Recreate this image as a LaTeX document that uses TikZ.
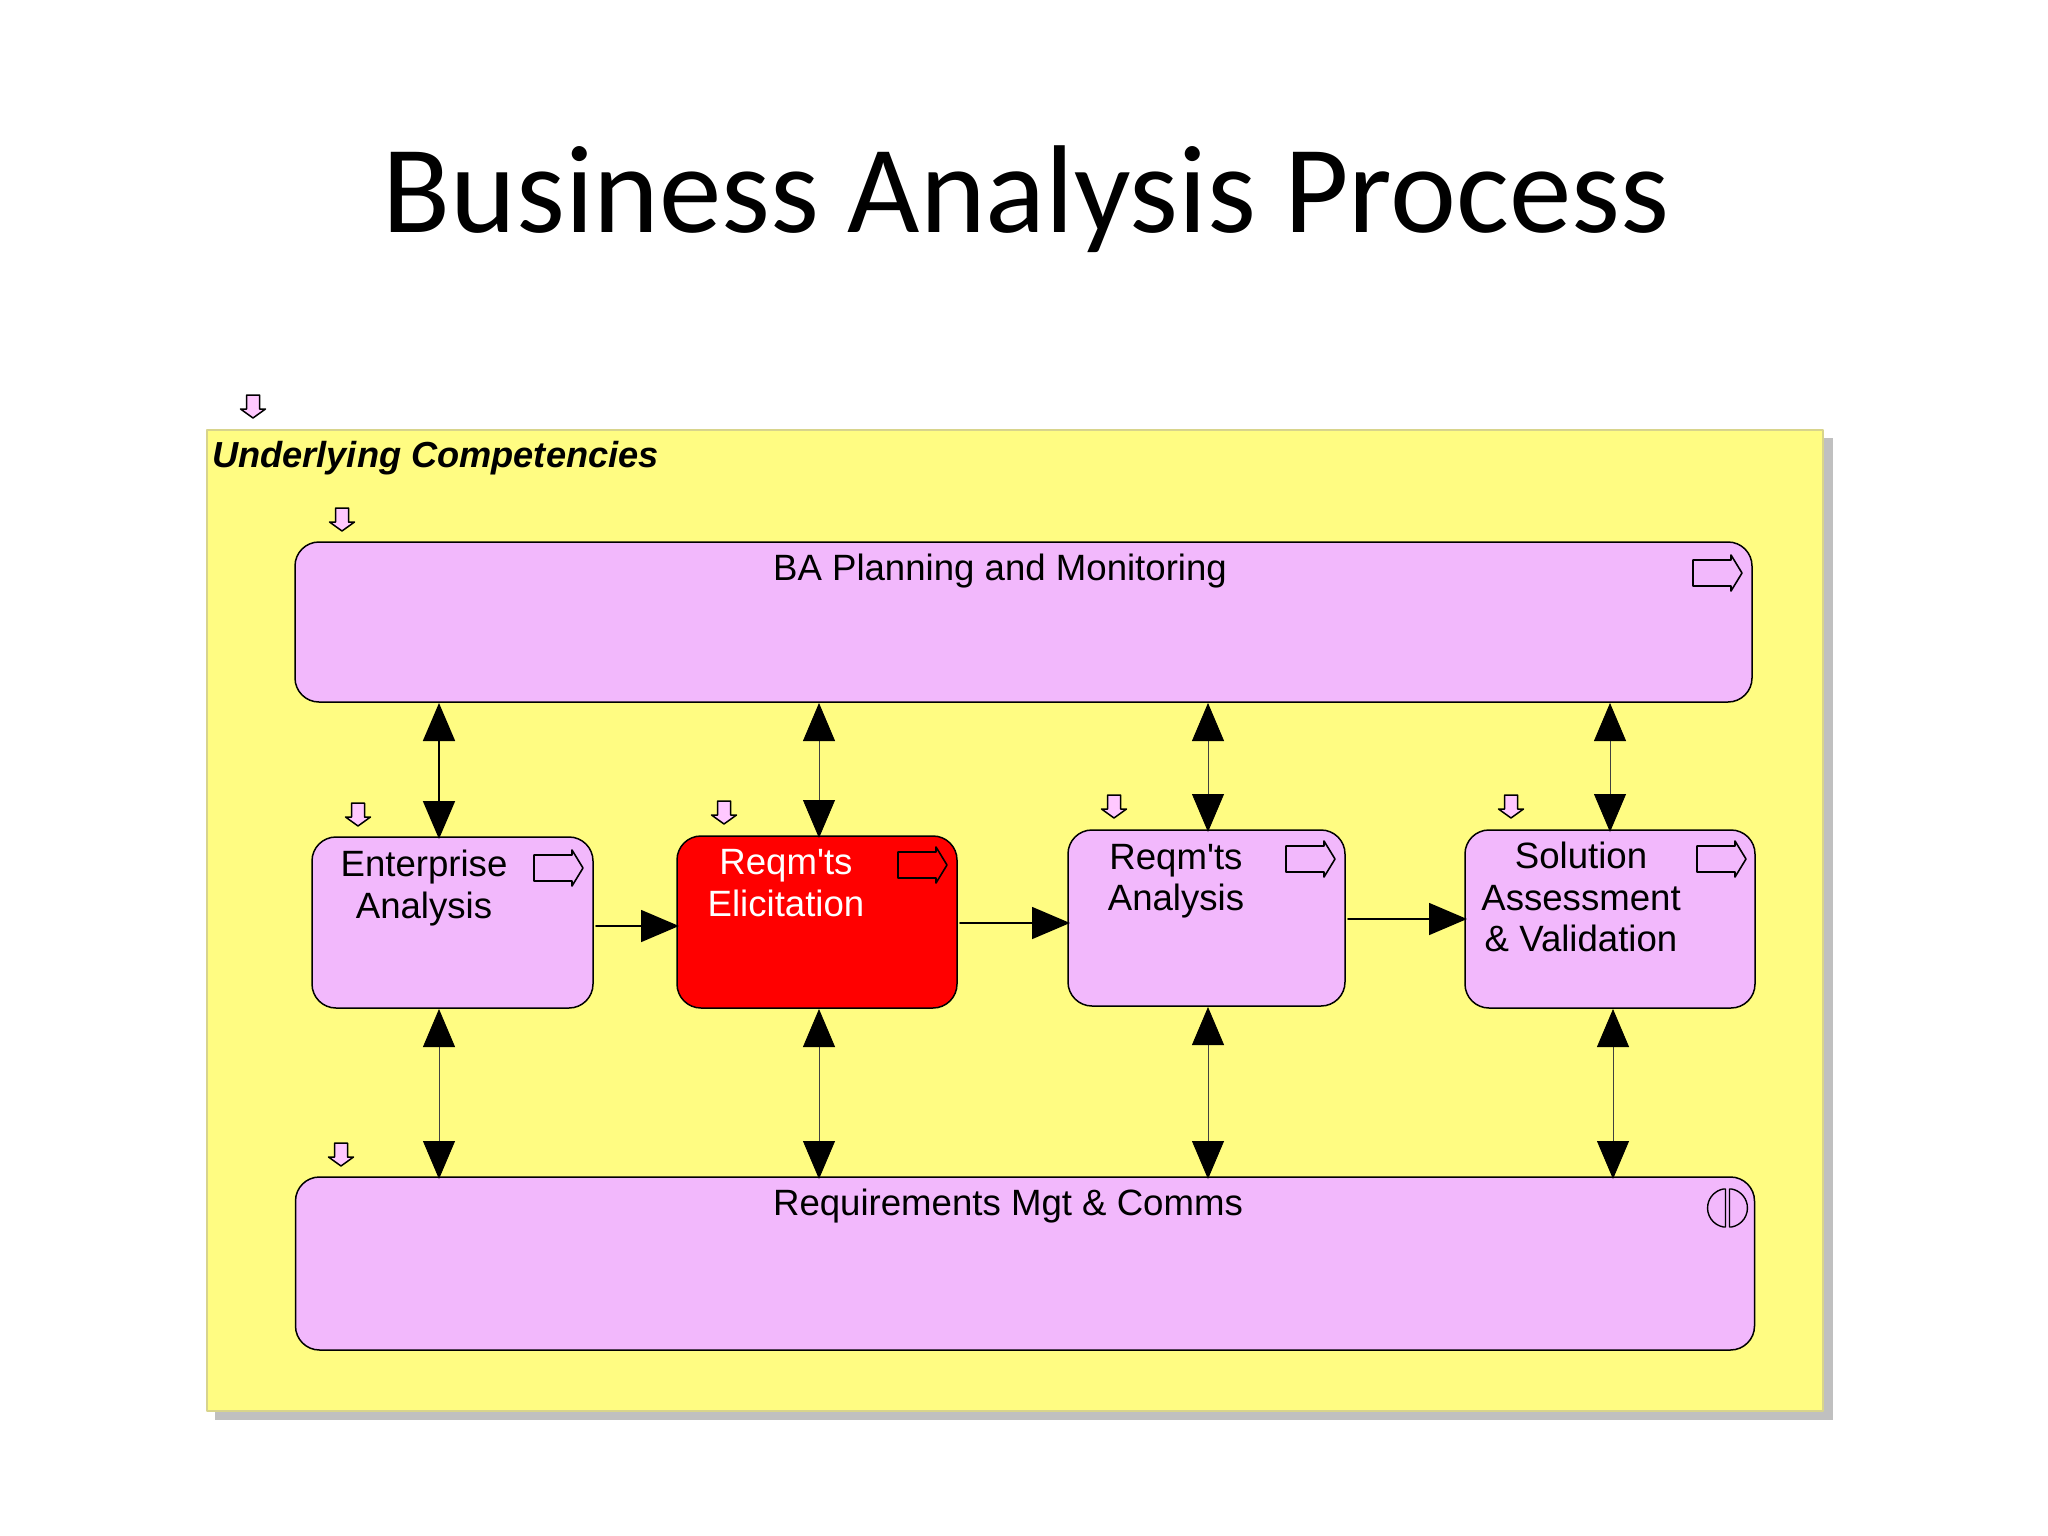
\documentclass[tikz,border=0pt]{standalone}
\usepackage{fontspec}
\usetikzlibrary{arrows.meta}
\newfontfamily\titlefont{Carlito}
\newfontfamily\boxfont{Liberation Sans}
\definecolor{panelyellow}{RGB}{255,252,130}
\definecolor{panelshadow}{RGB}{192,192,192}
\definecolor{boxpurple}{RGB}{242,184,252}
\definecolor{markpink}{RGB}{255,200,255}
\tikzset{
  procbox/.style={draw=black, line width=1.5pt, fill=boxpurple, rounded corners=24pt, inner sep=0pt, outer sep=0pt},
  boxlabel/.style={align=center, inner sep=0pt, font=\boxfont\fontsize{36.6}{41.5}\selectfont},
  bothway/.style={{Triangle[length=38pt,width=32pt,color=black]}-{Triangle[length=38pt,width=32pt,color=black]}, line width=0.8pt, draw=black!75},
  upperlink/.style={bothway, shorten <=-2pt, shorten >=1pt},
  lowerlink/.style={bothway, shorten <=1pt, shorten >=-2pt},
  oneway/.style={-{Triangle[length=38pt,width=32pt]}, line width=1.6pt, shorten >=-2pt},
  downmark/.pic={
    \draw[line width=1.5pt, fill=markpink] (-6.5,0) -- (6.5,0) -- (6.5,14) -- (12.5,14) -- (0,23) -- (-12.5,14) -- (-6.5,14) -- cycle;
  },
  rightmark/.pic={
    \draw[line width=1.6pt] (0,-13) -- (38,-13) -- (38,-18) -- (49,0) -- (38,18) -- (38,13) -- (0,13) -- cycle;
  },
  splitmark/.pic={
    \draw[line width=1.4pt] (-2,-19) -- (-2,19) -- (-4,19) arc[start angle=100,end angle=260,radius=19.3] -- cycle;
    \draw[line width=1.4pt] (2,-19) -- (2,19) -- (4,19) arc[start angle=80,end angle=-80,radius=19.3] -- cycle;
  }
}
\begin{document}
\begin{tikzpicture}[x=1pt, y=-1pt, line cap=round, line join=round]
  \useasboundingbox (0,0) rectangle (2048,1536);
  \node[anchor=base, font=\titlefont\fontsize{125}{125}\selectfont] (title) at (1026,232) {Business Analysis Process};

  % panel
  \fill[panelshadow] (215,438) rectangle (1833,1420);
  \node[draw=yellow!50!gray!70, line width=1.2pt, fill=panelyellow, inner sep=0pt, outer sep=0pt, minimum width=1616pt, minimum height=981pt] (panel) at (1015,920.5) {};
  \node[anchor=base west, inner sep=0pt, font=\boxfont\bfseries\itshape\fontsize{36.2}{36}\selectfont] (paneltitle) at (212,467) {Underlying Competencies};

  % boxes
  \node[procbox, minimum width=1457pt, minimum height=160pt] (ba) at (1023.5,622) {};
  \node[procbox, minimum width=281pt, minimum height=171pt] (ea) at (452.5,922.5) {};
  \node[procbox, fill=red, minimum width=280pt, minimum height=172pt] (el) at (817,922) {};
  \node[procbox, minimum width=277pt, minimum height=176pt] (an) at (1206.5,918) {};
  \node[procbox, minimum width=290pt, minimum height=178pt] (so) at (1610,919) {};
  \node[procbox, minimum width=1459pt, minimum height=173pt] (rm) at (1025,1263.5) {};

  \node[boxlabel] (batext) at (1000,571.5) {BA Planning and Monitoring};
  \node[boxlabel] (rmtext) at (1008,1206) {Requirements Mgt \& Comms};
  \node[boxlabel] (eatext) at (424,888) {Enterprise\\Analysis};
  \node[boxlabel, text=white] (eltext) at (786,883) {Reqm'ts\\Elicitation};
  \node[boxlabel] (antext) at (1176,881) {Reqm'ts\\Analysis};
  \node[boxlabel] (sotext) at (1581,897) {Solution\\Assessment\\\& Validation};

  % links up and down
  \draw[upperlink, line width=1.8pt, draw=black] ([xshift=-13.5pt]ea.north) -- ([xshift=-13.5pt]ea.north |- ba.south);
  \draw[upperlink] ([xshift=2pt]el.north) -- ([xshift=2pt]el.north |- ba.south);
  \draw[upperlink] ([xshift=1.5pt]an.north) -- ([xshift=1.5pt]an.north |- ba.south);
  \draw[upperlink] (so.north) -- (so.north |- ba.south);
  \draw[lowerlink] ([xshift=-13.5pt]ea.south) -- ([xshift=-13.5pt]ea.south |- rm.north);
  \draw[lowerlink] ([xshift=2pt]el.south) -- ([xshift=2pt]el.south |- rm.north);
  \draw[lowerlink] ([xshift=1.5pt]an.south) -- ([xshift=1.5pt]an.south |- rm.north);
  \draw[lowerlink] ([xshift=3pt]so.south) -- ([xshift=3pt]so.south |- rm.north);

  % links across
  \draw[oneway] ([xshift=3pt,yshift=-3.5pt]ea.east) -- ([yshift=-3.5pt]ea.east -| el.west);
  \draw[oneway] ([xshift=3pt,yshift=-1pt]el.east) -- ([yshift=-1pt]el.east -| an.west);
  \draw[oneway] ([xshift=3pt,yshift=-1pt]an.east) -- ([yshift=-1pt]an.east -| so.west);

  % small marks
  \pic at (253,395) {downmark};
  \pic at (342,508) {downmark};
  \pic at (358,803) {downmark};
  \pic at (724,801) {downmark};
  \pic at (1114,795) {downmark};
  \pic at (1511,795) {downmark};
  \pic at (341,1143) {downmark};
  \pic at (1693,573) {rightmark};
  \pic at (534,868) {rightmark};
  \pic at (898,865) {rightmark};
  \pic at (1286,859) {rightmark};
  \pic at (1697,859) {rightmark};
  \pic at (1727.5,1208) {splitmark};
\end{tikzpicture}
\end{document}
